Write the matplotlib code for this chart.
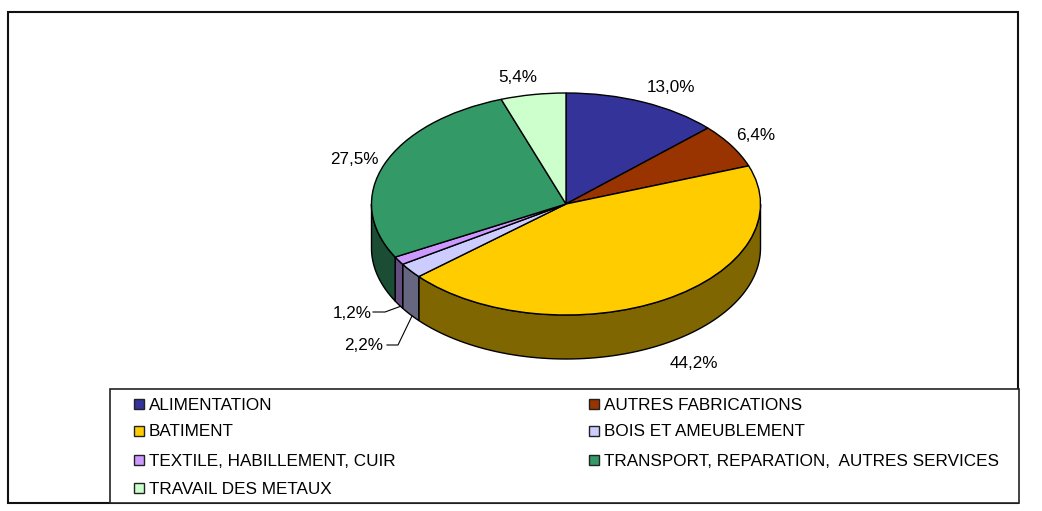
"""Pie chart in fake 3D, activity sectors with a boxed legend below."""

import matplotlib

matplotlib.use("Agg")
import matplotlib.pyplot as plt  # noqa: E402
import numpy as np  # noqa: E402
from matplotlib.colors import to_rgb  # noqa: E402
from matplotlib.patches import Rectangle  # noqa: E402

categories = [
    "ALIMENTATION",
    "AUTRES FABRICATIONS",
    "BATIMENT",
    "BOIS ET AMEUBLEMENT",
    "TEXTILE, HABILLEMENT, CUIR",
    "TRANSPORT, REPARATION,  AUTRES SERVICES",
    "TRAVAIL DES METAUX",
]
values = [13.0, 6.4, 44.2, 2.2, 1.2, 27.5, 5.4]
value_labels = ["13,0%", "6,4%", "44,2%", "2,2%", "1,2%", "27,5%", "5,4%"]
colors = ["#333399", "#993300", "#FFCC00", "#CCCCFF", "#CC99FF", "#339966", "#CCFFCC"]

plt.rcParams["font.family"] = ["Liberation Sans", "DejaVu Sans"]
W, H = 1042, 511
FS = 12.3

fig = plt.figure(figsize=(W / 100, H / 100), dpi=100)

# overlay in pixel coordinates for frame, legend and labels
bg = fig.add_axes([0, 0, 1, 1])
bg.set_xlim(0, W)
bg.set_ylim(H, 0)
bg.axis("off")
bg.add_patch(Rectangle((8, 12), 1010, 491, fc="white", ec="#111111", lw=1.5))

# top face of the pie: radii 194.5 x 111 px, centre (566, 204)
cx, cy, rx, ry, depth = 566, 204, 194.5, 111, 44
ax = fig.add_axes([(cx - rx) / W, 1 - (cy + ry) / H, 2 * rx / W, 2 * ry / H])
ax.patch.set_alpha(0)

# side wall, only the front half of the ellipse shows
edges = np.cumsum([0] + values) / np.sum(values) * 2 * np.pi
drop = 2 * depth / (2 * ry)
for i, c in enumerate(colors):
    t0, t1 = max(edges[i], np.pi / 2), min(edges[i + 1], 3 * np.pi / 2)
    if t1 <= t0:
        continue
    t = np.linspace(t0, t1, 80)
    x, y = np.sin(t), np.cos(t)
    dark = tuple(v * 0.5 for v in to_rgb(c))
    ax.fill(
        np.r_[x, x[::-1]],
        np.r_[y, y[::-1] - drop],
        fc=dark,
        ec="black",
        lw=1,
        clip_on=False,
        zorder=1,
    )

wedges, _ = ax.pie(
    values,
    colors=colors,
    startangle=90,
    counterclock=False,
    radius=1,
    wedgeprops={"edgecolor": "black", "linewidth": 1, "clip_on": False, "zorder": 2},
)
ax.set_aspect("auto")
ax.set_xlim(-1, 1)
ax.set_ylim(-1, 1)
ax.axis("off")

# value labels (layer above the pie)
top = fig.add_axes([0, 0, 1, 1])
top.set_xlim(0, W)
top.set_ylim(H, 0)
top.axis("off")
top.patch.set_alpha(0)

label_pos = [(671, 87), (756, 136), (694, 363), (364, 346), (352, 313), (354, 159), (518, 78)]
for lab, (lx, ly) in zip(value_labels, label_pos):
    top.text(lx, ly, lab, fontsize=FS, ha="center", va="center", color="black")

top.plot([373, 385, 400], [312, 312, 306.5], color="black", lw=0.8)
top.plot([387, 398, 412], [345, 345, 316], color="black", lw=0.8)

# legend box, filled row by row
top.add_patch(Rectangle((110, 389), 909, 114, fc="white", ec="#222222", lw=1.2))
col_x = [134, 589]
row_y = [404, 431, 460, 488]
for i, (name, c) in enumerate(zip(categories, colors)):
    sx, sy = col_x[i % 2], row_y[i // 2]
    top.add_patch(Rectangle((sx, sy - 5), 10, 10, fc=c, ec="#222222", lw=1))
    top.text(sx + 15, sy + 1, name, fontsize=FS, ha="left", va="center", color="black")

fig.savefig("out.png", dpi=100)
plt.close(fig)
